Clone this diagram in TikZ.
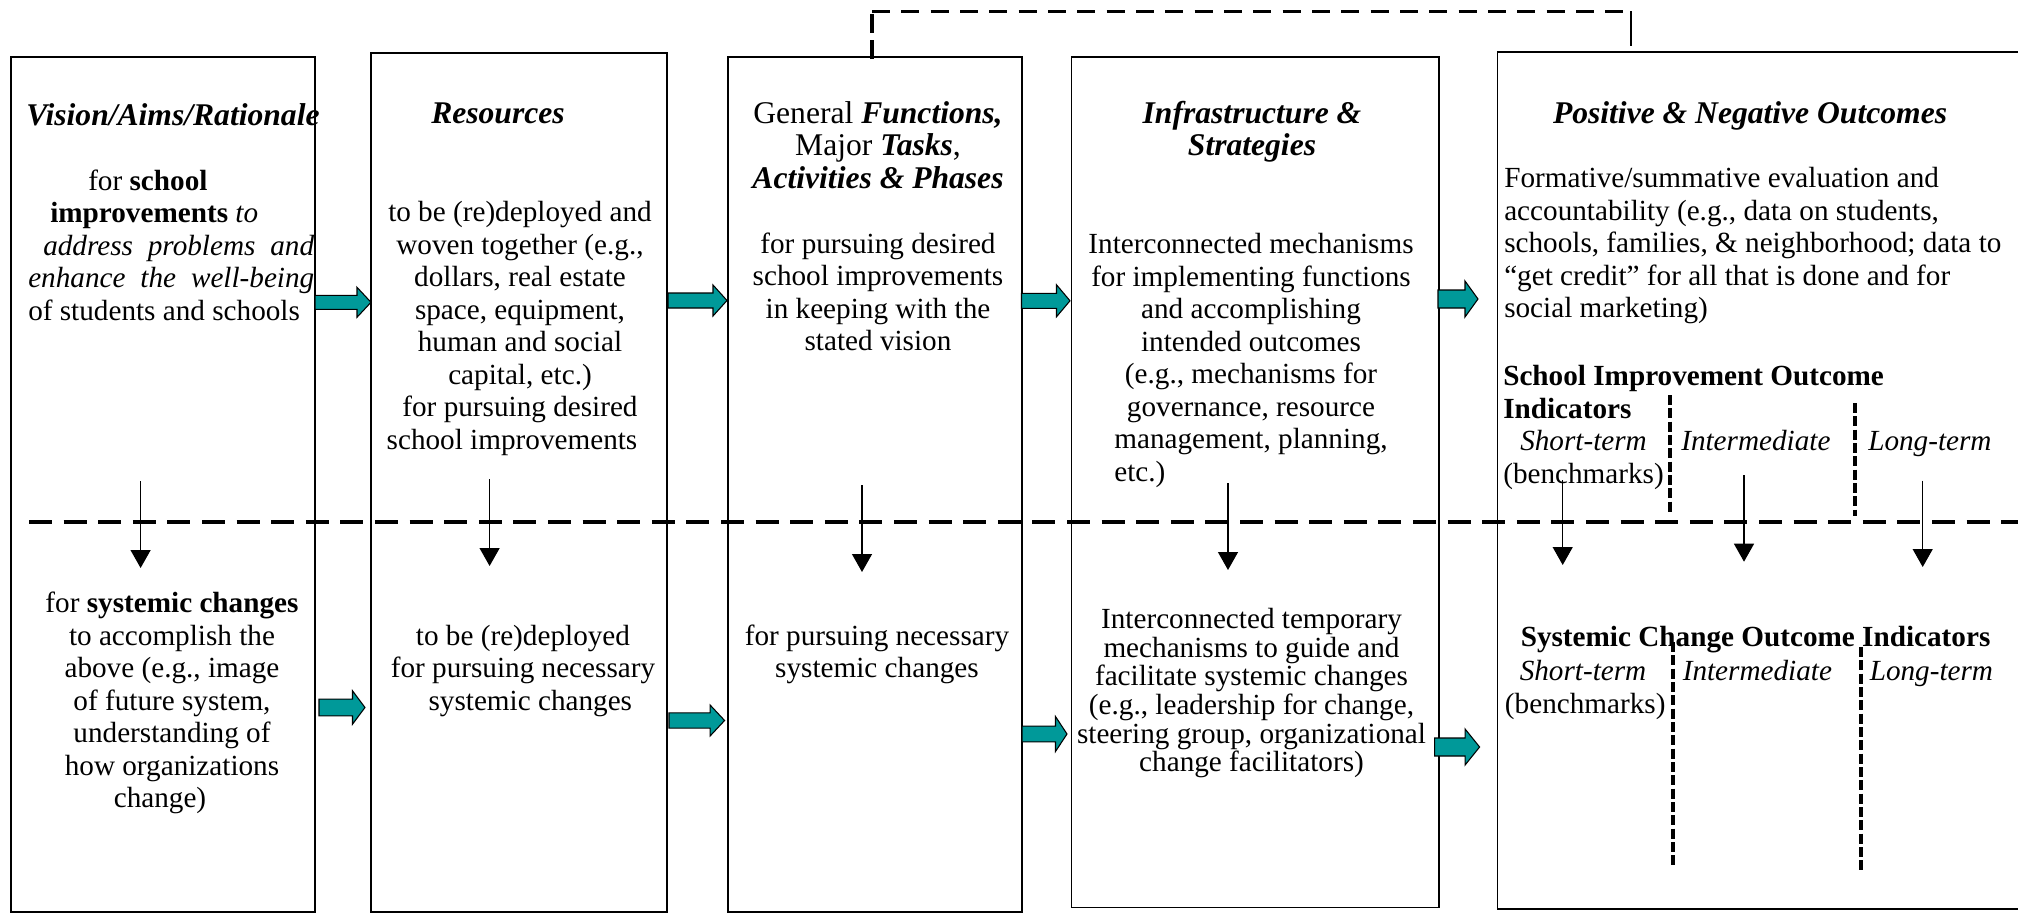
\documentclass[tikz,border=0pt]{standalone}
\usepackage{fontspec}
\setmainfont{Liberation Serif}
\usetikzlibrary{arrows.meta,calc}
\definecolor{tealfill}{RGB}{0,153,153}
\newcommand\bodyfont{\fontsize{21.9pt}{24.375pt}\selectfont}
\newcommand\ttlfont{\fontsize{23.7pt}{24.375pt}\selectfont}
\newcommand\tightfont{\fontsize{21.9pt}{21.5pt}\selectfont}
\newcommand\mystrut{\rule{0pt}{20pt}}
\newcommand\bi[1]{\textbf{\textit{#1}}}
\newcommand\tealarrow[5]{%
  \draw[blockarrow] let \p1=(#1), \p2=(#2) in
   (\x1,\y1+#3*0.75pt) -- (\x2-#5*0.75pt,\y1+#3*0.75pt) -- (\x2-#5*0.75pt,\y1+#4*0.75pt)
   -- (\x2,\y1) -- (\x2-#5*0.75pt,\y1-#4*0.75pt) -- (\x2-#5*0.75pt,\y1-#3*0.75pt)
   -- (\x1,\y1-#3*0.75pt) -- cycle;}
\begin{document}
\begin{tikzpicture}[x=0.75pt,y=-0.75pt,
  box/.style={draw, line width=1.3pt, inner sep=0pt, anchor=north west},
  txt/.style={inner sep=0pt, font=\bodyfont, align=center, anchor=north},
  ttl/.style={txt, font=\ttlfont},
  lbl/.style={inner sep=0pt, font=\bodyfont, anchor=base west},
  blockarrow/.style={draw=black, line width=0.8pt, fill=tealfill, line join=miter},
  downarrow/.style={line width=1pt, -{Triangle[width=15pt,length=13.5pt]}},
  middash/.style={line width=3pt, dash pattern=on 17.3pt off 8.65pt},
  feedback/.style={line width=1.75pt, dash pattern=on 13.5pt off 8.5pt},
  feedbackup/.style={line width=2.5pt, dash pattern=on 14.25pt off 5.25pt},
  feedbackend/.style={line width=2.1pt},
  divider/.style={line width=3.2pt, dash pattern=on 7.5pt off 2.5pt}]
\useasboundingbox (0,0) rectangle (2018,913);

% ---- boxes
\node[box, minimum width=228pt,   minimum height=641.6pt] (b1) at (10,56) {};
\node[box, minimum width=222pt,   minimum height=644.6pt] (b2) at (370,52) {};
\node[box, minimum width=220.5pt, minimum height=641.6pt] (b3) at (727,56) {};
\node[box, minimum width=275.6pt, minimum height=637.5pt] (b4) at (1070.5,56.5) {};
\node[box, minimum width=410pt,   minimum height=642.6pt] (b5) at (1496.5,51.5) {};

% ---- box 1
\node[ttl, anchor=north west, align=left] (t1) at (26,98.33) {\mystrut\bi{Vision/Aims/Rationale}};
\node[txt, anchor=north west, align=left] (u1) at (28,163.33) {\mystrut\hspace*{45pt}for \textbf{school}\\
\hspace*{16.5pt}\textbf{improvements} \textit{to}\\
\hspace*{11.25pt}\makebox[203.25pt][s]{\textit{address problems and}}\\
\makebox[214.5pt][s]{\textit{enhance the well-being}}\\
of students and schools};
\node[txt] (l1) at (172,585.83) {\mystrut for \textbf{systemic changes}\\
to accomplish the\\ above (e.g., image\\ of future system,\\ understanding of\\
how organizations\\ change)\hspace*{18pt}};

% ---- box 2
\node[ttl] (t2) at (498,96.33) {\mystrut\bi{Resources}};
\node[txt] (u2) at (520,195) {\mystrut to be (re)deployed and\\ woven together (e.g.,\\
dollars, real estate\\ space, equipment,\\ human and social\\ capital, etc.)\\
for pursuing desired\hspace*{12pt}\\ school improvements\hspace*{12pt}};
\node[txt] (l2) at (523,618.33) {\mystrut to be (re)deployed\\ for pursuing necessary\\
\hspace*{11pt}systemic changes};

% ---- box 3
\node[ttl] (t3) at (878,96.33) {\mystrut General \bi{Functions,}\\ Major \bi{Tasks},\\ \bi{Activities \& Phases}};
\node[txt] (u3) at (878,226.33) {\mystrut for pursuing desired\\ school improvements\\
in keeping with the\\ stated vision};
\node[txt] (l3) at (877,618.33) {\mystrut for pursuing necessary\\ systemic changes};

% ---- box 4
\node[ttl] (t4) at (1252,96.33) {\mystrut\bi{Infrastructure \&}\\ \bi{Strategies}};
\node[txt] (u4) at (1251,226.67) {\mystrut Interconnected mechanisms\\ for implementing functions\\
and accomplishing\\ intended outcomes\\ (e.g., mechanisms for\\ governance, resource\\
management, planning,\\ {\setbox0\hbox{management, planning,}\hbox to \wd0{etc.)\hfil}}};
\node[txt, font=\tightfont] (l4) at (1251.5,601.67) {\mystrut Interconnected temporary\\
mechanisms to guide and\\ facilitate systemic changes\\ (e.g., leadership for change,\\
steering group, organizational\\ change facilitators)};

% ---- box 5
\node[ttl] (t5) at (1750,96.33) {\mystrut\bi{Positive \& Negative Outcomes}};
\node[txt, anchor=north west, align=left] (u5) at (1504,160.83) {\mystrut Formative/summative evaluation and\\
accountability (e.g., data on students,\\ schools, families, \& neighborhood; data to\\
“get credit” for all that is done and for\\ social marketing)};
\node[txt, anchor=north west, align=left, font=\bodyfont\bfseries] (h5) at (1503,358.83) {\mystrut School Improvement Outcome\\ Indicators};
\node[lbl] (st1) at (1520,450) {\textit{Short-term}};
\node[lbl] (im1) at (1681,450) {\textit{Intermediate}};
\node[lbl] (lt1) at (1868,450) {\textit{Long-term}};
\node[lbl] (bm1) at (1503,483) {(benchmarks)};
\node[lbl] (sc5) at (1520.5,646.7) {\textbf{Systemic Change Outcome Indicators}};
\node[lbl] (st2) at (1519.5,680) {\textit{Short-term}};
\node[lbl] (im2) at (1682.5,680) {\textit{Intermediate}};
\node[lbl] (lt2) at (1869.5,680) {\textit{Long-term}};
\node[lbl] (bm2) at (1504.7,713.3) {(benchmarks)};

% ---- dividers in box 5
\coordinate (v1a) at (1670,395);   \coordinate (v1b) at (1670,515);
\coordinate (v2a) at (1855,403);   \coordinate (v2b) at (1855,516);
\coordinate (v3a) at (1673,642);   \coordinate (v3b) at (1673,867);
\coordinate (v4a) at (1861,647);   \coordinate (v4b) at (1861,873);
\draw[divider] (v1a) -- (v1b);
\draw[divider] (v2a) -- (v2b);
\draw[divider] (v3a) -- (v3b);
\draw[divider] (v4a) -- (v4b);

% ---- middle dashed line
\coordinate (m1) at (29,521.5);
\coordinate (m2) at (2040,521.5);
\draw[middash] (m1) -- (m2);

% ---- feedback dashed connector (box 3 -> box 5)
\coordinate (fb1) at (872,59);
\coordinate (fb2) at (872,11.5);
\coordinate (fb3) at (1631,11.5);
\coordinate (fb4) at (1631,46);
\draw[feedbackup] (fb1) -- (fb2);
\draw[feedback] (fb2) -- (fb3);
\draw[feedbackend] (fb3) -- (fb4);

% ---- down arrows
\coordinate (d1s) at (140.6,481);  \coordinate (d1e) at (140.6,568);
\coordinate (d2s) at (489.6,479);  \coordinate (d2e) at (489.6,566);
\coordinate (d3s) at (862,485);    \coordinate (d3e) at (862,572);
\coordinate (d4s) at (1228,483);   \coordinate (d4e) at (1228,570);
\coordinate (d5s) at (1562.7,480); \coordinate (d5e) at (1562.7,565);
\coordinate (d6s) at (1744,475);   \coordinate (d6e) at (1744,561.7);
\coordinate (d7s) at (1922.7,480.7); \coordinate (d7e) at (1922.7,567);
\foreach \i in {1,...,7} \draw[downarrow] (d\i s) -- (d\i e);

% ---- teal block arrows
\coordinate (a1s) at (315,302.3);  \coordinate (a1e) at (371,302.3);
\coordinate (a2s) at (668,300.5);  \coordinate (a2e) at (727,300.5);
\coordinate (a3s) at (1021.5,300.8); \coordinate (a3e) at (1070,300.8);
\coordinate (a4s) at (1438,299);   \coordinate (a4e) at (1478,299);
\coordinate (a5s) at (319,707.5);  \coordinate (a5e) at (365,707.5);
\coordinate (a6s) at (669,720.5);  \coordinate (a6e) at (724.6,720.5);
\coordinate (a7s) at (1022,734);   \coordinate (a7e) at (1067,734);
\coordinate (a8s) at (1434.7,747); \coordinate (a8e) at (1479.6,747);
\tealarrow{a1s}{a1e}{7}{15}{14}
\tealarrow{a2s}{a2e}{7.5}{15.5}{14}
\tealarrow{a3s}{a3e}{7.5}{16}{13.5}
\tealarrow{a4s}{a4e}{9}{18}{13}
\tealarrow{a5s}{a5e}{8.3}{16.7}{12.5}
\tealarrow{a6s}{a6e}{7.7}{15.5}{14.5}
\tealarrow{a7s}{a7e}{7.8}{17.5}{11.5}
\tealarrow{a8s}{a8e}{9}{18}{14.5}
\end{tikzpicture}
\end{document}
